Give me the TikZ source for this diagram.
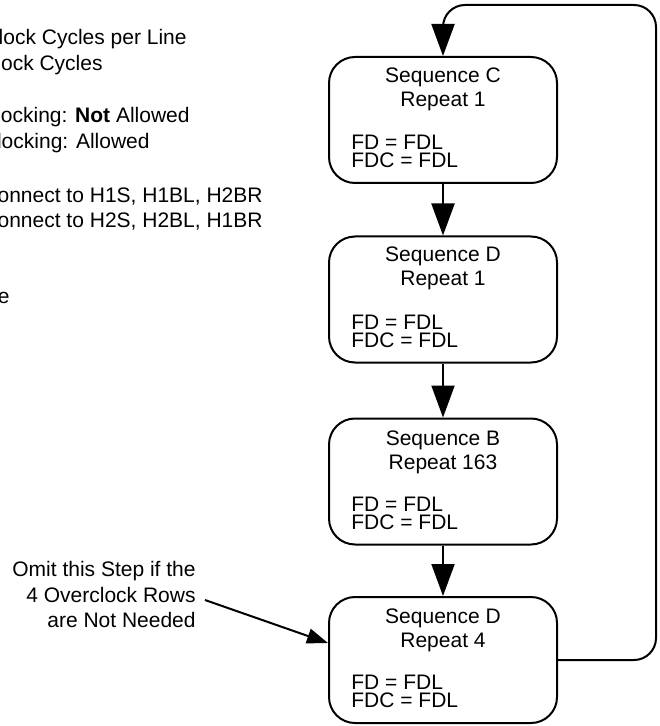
\documentclass[tikz,border=0pt]{standalone}
\usepackage{fontspec}
\setmainfont{Liberation Sans}
\usetikzlibrary{arrows.meta}
\begin{document}
\begin{tikzpicture}[x=0.5pt,y=-0.5pt,
  seqbox/.style={draw, line width=1pt, rounded corners=13pt, minimum width=114pt, minimum height=63pt, inner sep=0pt},
  txt/.style={font=\fontsize{10.5}{12.6}\selectfont, inner sep=0pt, anchor=base},
  ltxt/.style={txt, anchor=base west},
  rtxt/.style={txt, anchor=base east},
  flow/.style={line width=1pt, -{Triangle[length=16pt,width=11.5pt]}},
  note/.style={line width=1pt, -{Triangle[length=10.5pt,width=7.5pt]}},
]
\useasboundingbox (0,0) rectangle (659,726);
\clip (0,0) rectangle (659,726);

% left text (cut off by the picture edge)
\node[rtxt] (l1) at (187,45) {lock Cycles per Line};
\node[rtxt] (l2) at (103,71) {ock Cycles};
\node[rtxt] (l3) at (190,123) {ocking: \textbf{Not} Allowed};
\node[rtxt] (l4) at (150,149) {locking: Allowed};
\node[rtxt] (l5) at (263,203) {onnect to H1S, H1BL, H2BR};
\node[rtxt] (l6) at (263,228) {onnect to H2S, H2BL, H1BR};
\node[rtxt] (l7) at (10,304) {e};

% boxes
\node[seqbox] (C) at (443,120) {};
\node[seqbox] (D1) at (443,299.5) {};
\node[seqbox] (B) at (443,481.5) {};
\node[seqbox] (D4) at (443,660) {};

% box texts
\node[txt] (Ct1) at (443,83) {Sequence C};
\node[txt] (Ct2) at (443,107) {Repeat 1};
\node[ltxt] (Ct3) at (351,150) {FD = FDL};
\node[ltxt] (Ct4) at (351,168) {FDC = FDL};

\node[txt] (Dt1) at (443,262) {Sequence D};
\node[txt] (Dt2) at (443,286) {Repeat 1};
\node[ltxt] (Dt3) at (351,329) {FD = FDL};
\node[ltxt] (Dt4) at (351,347) {FDC = FDL};

\node[txt] (Bt1) at (443,445) {Sequence B};
\node[txt] (Bt2) at (443,469) {Repeat 163};
\node[ltxt] (Bt3) at (351,511) {FD = FDL};
\node[ltxt] (Bt4) at (351,529) {FDC = FDL};

\node[txt] (Et1) at (443,623) {Sequence D};
\node[txt] (Et2) at (443,647) {Repeat 4};
\node[ltxt] (Et3) at (351,689) {FD = FDL};
\node[ltxt] (Et4) at (351,707) {FDC = FDL};

% annotation
\node[rtxt] (n1) at (196,576) {Omit this Step if the};
\node[rtxt] (n2) at (196,602) {4 Overclock Rows};
\node[rtxt] (n3) at (196,627) {are Not Needed};
\coordinate (a0) at (205,600);
\draw[note] (a0) -- ([yshift=8.5pt]D4.west);

% flow
\draw[flow] (C.south) -- (D1.north);
\draw[flow] (D1.south) -- (B.north);
\draw[flow] (B.south) -- (D4.north);
\coordinate (r1) at (656,660);
\coordinate (r2) at (656,5);
\coordinate (r3) at (443,5);
\draw[flow, rounded corners=11pt] (D4.east) -- (r1) -- (r2) -- (r3) -- (C.north);
\end{tikzpicture}
\end{document}
